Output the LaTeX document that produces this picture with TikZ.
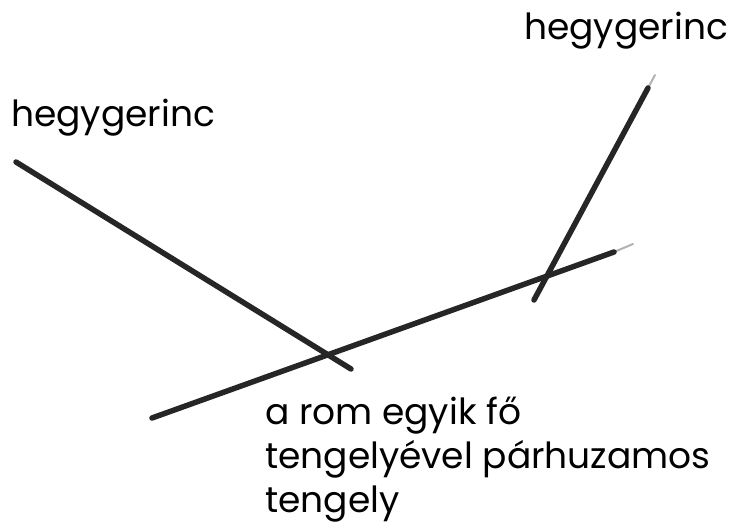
\documentclass[tikz,border=0pt]{standalone}
\usepackage{fontspec}
\setmainfont{Poppins}
\begin{document}
\begin{tikzpicture}[x=1pt,y=-1pt,
  pencil/.style={line width=5.5pt,line cap=round,draw=black!85},
  tip/.style={line width=2pt,line cap=round,draw=black!30},
  lbl/.style={inner sep=0pt,anchor=base west,font=\fontsize{36}{44}\selectfont}]
\useasboundingbox (0,0) rectangle (740,527);
% endpoints
\coordinate (r1a) at (16,162);
\coordinate (r1b) at (351,369);
\coordinate (axa) at (152,418);
\coordinate (axb) at (614,252);
\coordinate (axt) at (633,244);
\coordinate (r2a) at (534,300);
\coordinate (r2b) at (648,88);
\coordinate (r2t) at (655,75);
\draw[tip] (axb) -- (axt);
\draw[tip] (r2b) -- (r2t);
\draw[pencil] (r1a) -- (r1b);
\draw[pencil] (axa) -- (axb);
\draw[pencil] (r2a) -- (r2b);
\node[lbl] (hl) at (11,127) {hegygerinc};
\node[lbl] (hr) at (524,40) {hegygerinc};
\node[lbl,align=left] (ax) at (265,512) {a rom egyik fő\\tengelyével párhuzamos\\tengely};
\end{tikzpicture}
\end{document}
